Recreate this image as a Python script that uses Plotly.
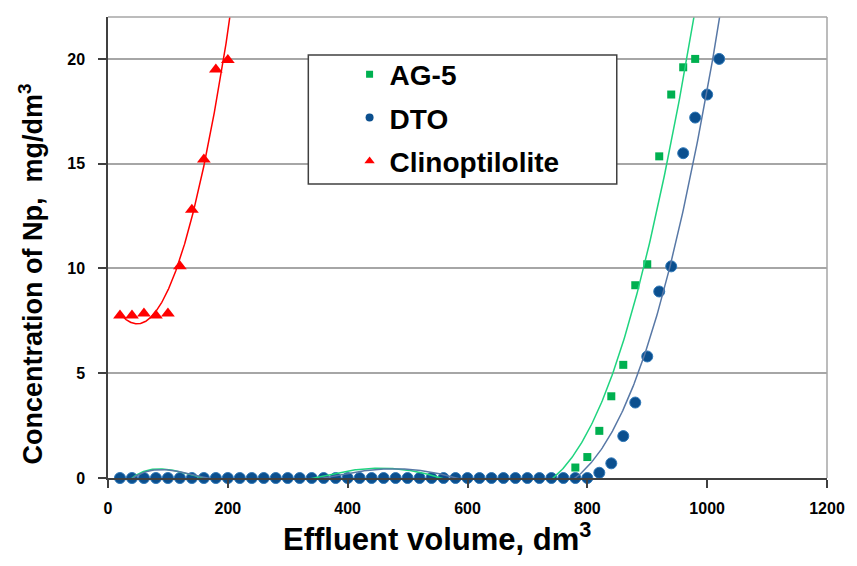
import numpy as np
import plotly.graph_objects as go

# ---- data ----
ag5_x = list(range(20, 761, 20)) + [780, 800, 820, 840, 860, 880, 900, 920, 940, 960, 980]
ag5_y = [0.0] * 38 + [0.5, 1.0, 2.25, 3.9, 5.4, 9.2, 10.2, 15.35, 18.3, 19.6, 20.0]

dto_x = list(range(20, 801, 20)) + [820, 840, 860, 880, 900, 920, 940, 960, 980, 1000, 1020]
dto_y = [0.0] * 40 + [0.25, 0.7, 2.0, 3.6, 5.8, 8.9, 10.1, 15.5, 17.2, 18.3, 20.0]

cli_x = [20, 40, 60, 80, 100, 120, 140, 160, 180, 200]
cli_y = [7.75, 7.75, 7.85, 7.75, 7.85, 10.1, 12.8, 15.2, 19.5, 19.95]

x_ticks = [0, 200, 400, 600, 800, 1000, 1200]
y_ticks = [0, 5, 10, 15, 20]

# ---- trendlines (polynomial least-squares fits of the data) ----
def trend(x, y, deg, x0, x1):
    c = np.polyfit(x, y, deg)
    xs = np.linspace(x0, x1, 600)
    return xs, np.polyval(c, xs)

ag5_tx, ag5_ty = trend(ag5_x, ag5_y, 6, 20, 1000)
dto_tx, dto_ty = trend(dto_x, dto_y, 6, 20, 1050)
cli_tx, cli_ty = trend(cli_x, cli_y, 2, 20, 230)

GREEN = "#00b050"
GREEN_L = "#1fd47f"
BLUE = "#0b4f8e"
BLUE_L = "#5878a6"
RED = "#ff0000"
FONT = "Liberation Sans, Arial, sans-serif"

fig = go.Figure()
fig.add_trace(go.Scatter(x=ag5_x, y=ag5_y, mode="markers", name="AG-5", showlegend=False,
                         marker=dict(symbol="square", size=8, color=GREEN), cliponaxis=False))
fig.add_trace(go.Scatter(x=dto_x, y=dto_y, mode="markers", name="DTO", showlegend=False,
                         marker=dict(symbol="circle", size=11, color=BLUE,
                                     line=dict(width=1, color="#2f78b8")), cliponaxis=False))
fig.add_trace(go.Scatter(x=cli_x, y=cli_y, mode="markers", name="Clinoptilolite", showlegend=False,
                         marker=dict(symbol="triangle-up", size=12, color=RED), cliponaxis=False))
fig.add_trace(go.Scatter(x=ag5_tx, y=ag5_ty, mode="lines", showlegend=False,
                         line=dict(color=GREEN_L, width=1.5), hoverinfo="skip"))
fig.add_trace(go.Scatter(x=dto_tx, y=dto_ty, mode="lines", showlegend=False,
                         line=dict(color=BLUE_L, width=1.5), hoverinfo="skip"))
fig.add_trace(go.Scatter(x=cli_tx, y=cli_ty, mode="lines", showlegend=False,
                         line=dict(color=RED, width=1.5), hoverinfo="skip"))

# legend entries (small symbols as in the original legend)
for nm, sym, sz, col, grp in [("AG-5", "square", 7, GREEN, "a"),
                              ("DTO", "circle", 8, BLUE, "b"),
                              ("Clinoptilolite", "triangle-up", 9, RED, "c")]:
    fig.add_trace(go.Scatter(x=[None], y=[None], mode="markers", name=nm, legendgroup=grp,
                             marker=dict(symbol=sym, size=sz, color=col)))

tickfont = dict(family=FONT, size=16, color="black", weight="bold")

fig.update_layout(
    width=857, height=566,
    margin=dict(l=108, r=24, t=17, b=88),
    paper_bgcolor="white", plot_bgcolor="white",
    xaxis=dict(range=[0, 1200], tickvals=x_ticks, ticktext=[f"<b>{t}</b>" for t in x_ticks],
               ticks="outside", ticklen=8, tickwidth=1.5,
               tickcolor="#404040", showline=True, linecolor="#404040", linewidth=1.5,
               showgrid=False, zeroline=False, tickfont=tickfont, ticklabelstandoff=7),
    yaxis=dict(range=[0, 22], tickvals=y_ticks, ticktext=[f"<b>{t}</b>" for t in y_ticks],
               ticks="outside", ticklen=8, tickwidth=1.5,
               tickcolor="#404040", showline=True, linecolor="#404040", linewidth=1.5,
               showgrid=True, gridcolor="#a6a6a6", gridwidth=1.5, zeroline=False,
               tickfont=tickfont, ticklabelstandoff=10),
    legend=dict(x=0.336, y=0.9295, xanchor="left", yanchor="top", bgcolor="rgba(0,0,0,0)",
                borderwidth=0, tracegroupgap=4,
                font=dict(family=FONT, size=28, color="black", weight="bold")),
    showlegend=True,
)

# plot border (top/right) and legend frame
fig.add_shape(type="line", xref="paper", yref="paper", x0=0, x1=1, y0=1, y1=1,
              line=dict(color="#a6a6a6", width=1.5))
fig.add_shape(type="line", xref="paper", yref="paper", x0=1, x1=1, y0=0, y1=1,
              line=dict(color="#a6a6a6", width=1.5))
fig.add_shape(type="rect", xref="paper", yref="paper", x0=0.2786, x1=0.7076, y0=0.6377, y1=0.9176,
              line=dict(color="#404040", width=1.5), fillcolor="white", layer="above")

fig.add_annotation(text="<b>Effluent volume, dm<sup>3</sup></b>", xref="paper", yref="paper",
                   x=0.458, y=-0.128, xanchor="center", yanchor="middle", showarrow=False,
                   font=dict(family=FONT, size=31, color="black"))
fig.add_annotation(text="<b>Concentration of Np,  mg/dm<sup>3</sup></b>", xref="paper", yref="paper",
                   x=-0.1075, y=0.443, xanchor="center", yanchor="middle", showarrow=False,
                   textangle=-90, font=dict(family=FONT, size=27, color="black"))

fig.write_html("out.html")
